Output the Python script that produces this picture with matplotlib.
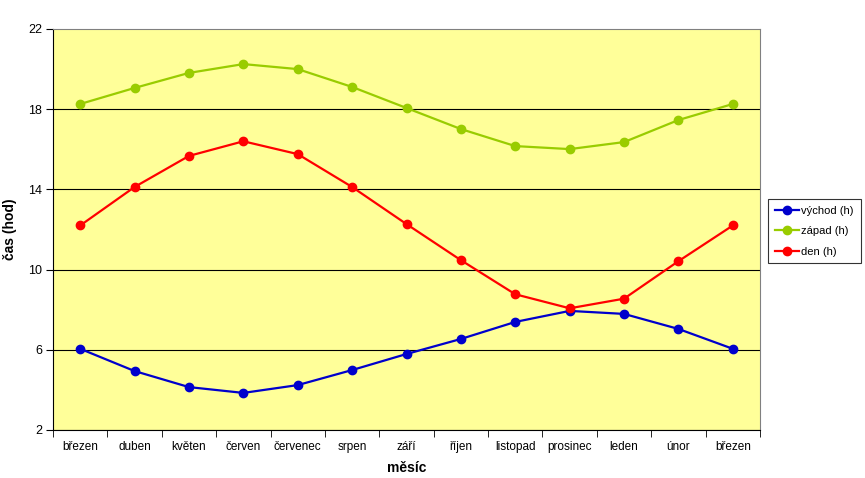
import matplotlib.pyplot as plt
import numpy as np

plt.rcParams['font.family'] = ['Liberation Sans', 'DejaVu Sans']

mesice = ["březen", "duben", "květen", "červen", "červenec", "srpen", "září",
          "říjen", "listopad", "prosinec", "leden", "únor", "březen"]
vychod = [6.05, 4.94, 4.14, 3.85, 4.24, 4.99, 5.79, 6.54, 7.39, 7.94, 7.79, 7.04, 6.05]
zapad = [18.26, 19.06, 19.81, 20.25, 20.0, 19.11, 18.06, 17.01, 16.16, 16.01, 16.36, 17.46, 18.26]
den = [12.2, 14.12, 15.67, 16.4, 15.76, 14.12, 12.27, 10.47, 8.77, 8.07, 8.55, 10.42, 12.2]

fig = plt.figure(figsize=(8.65, 4.78), dpi=100)
ax = fig.add_axes([53 / 865, 48 / 478, 707 / 865, 401 / 478])
ax.set_facecolor("#FFFF99")

x = np.arange(len(mesice))
ax.plot(x, vychod, color="#0000CC", marker="o", markersize=6, linewidth=1.6, label="východ (h)", zorder=3)
ax.plot(x, zapad, color="#99CC00", marker="o", markersize=6, linewidth=1.6, label="západ (h)", zorder=3)
ax.plot(x, den, color="#FF0000", marker="o", markersize=6, linewidth=1.6, label="den (h)", zorder=3)

ax.set_xlim(-0.5, len(mesice) - 0.5)
ax.set_ylim(2, 22)
ax.set_yticks([2, 6, 10, 14, 18, 22])
ax.set_xticks(x)
ax.set_xticklabels(mesice, fontsize=8.5)
ax.set_xticks(np.arange(-0.5, len(mesice), 1), minor=True)
ax.tick_params(axis="x", which="major", length=0, pad=8)
ax.tick_params(axis="x", which="minor", length=5, direction="out", color="black")
ax.tick_params(axis="y", length=5, direction="out", labelsize=9, pad=3)

ax.grid(axis="y", color="black", linewidth=0.8)
ax.set_axisbelow(True)
ax.get_ygridlines()[-1].set_visible(False)
for s in ["top", "right"]:
    ax.spines[s].set_color("#808080")
ax.spines["left"].set_color("black")
ax.spines["bottom"].set_color("black")

ax.set_xlabel("měsíc", fontsize=10, fontweight="bold", labelpad=6)
ax.set_ylabel("čas (hod)", fontsize=10, fontweight="bold", labelpad=8)

leg = fig.legend(loc="upper left", bbox_to_anchor=(768 / 865, 1 - 199 / 478), fontsize=8,
                 frameon=True, fancybox=False, edgecolor="black", handlelength=2.2,
                 handletextpad=0.2, borderpad=0.6, labelspacing=0.95, borderaxespad=0)
leg.get_frame().set_linewidth(0.8)

fig.savefig("out.png", dpi=100)
